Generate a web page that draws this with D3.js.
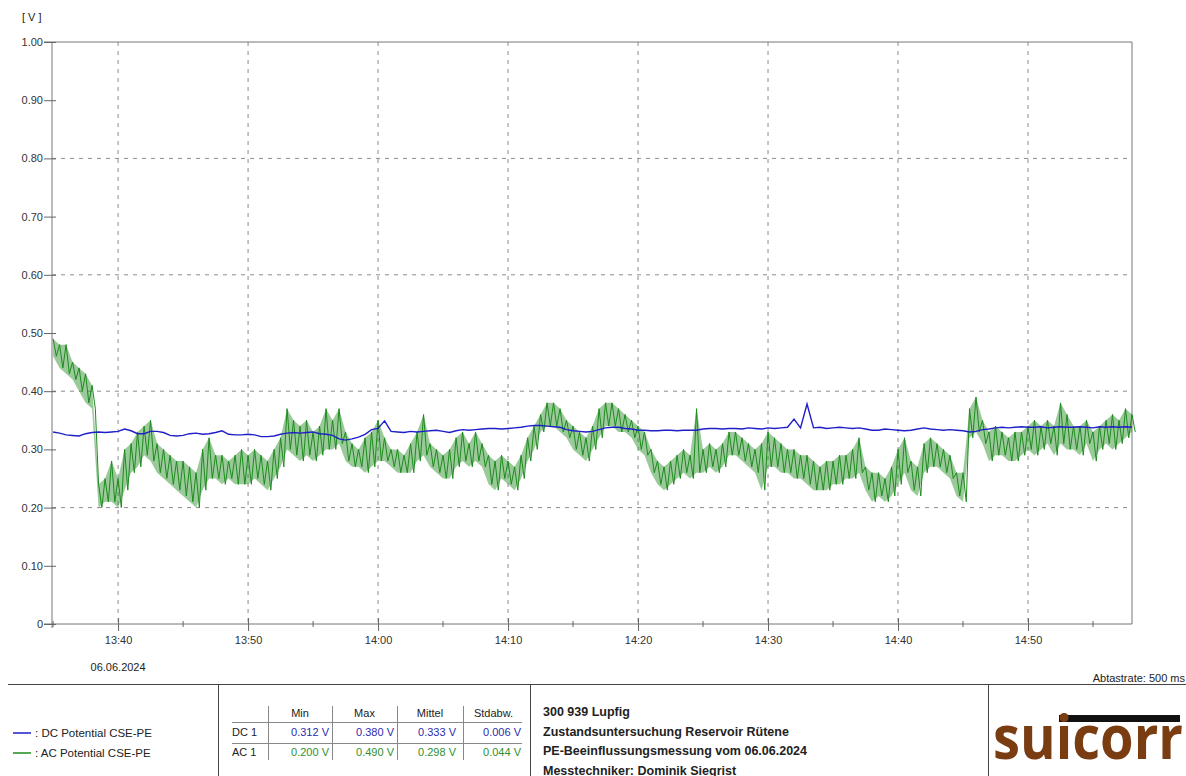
<!DOCTYPE html>
<html>
<head>
<meta charset="utf-8">
<title>PE-Beeinflussungsmessung</title>
<style>
body { margin: 0; background: #fff; }
svg text { font-family: "Liberation Sans", Arial, sans-serif; fill: #222; }
.grid line { stroke: #8c8c8c; stroke-width: 1; stroke-dasharray: 4,5; }
.frame line { stroke: #777; stroke-width: 1; }
.axis line { stroke: #666; }
.axis text { font-size: 11px; fill: #333; }
.panel line { stroke: #444; stroke-width: 1; }
.tbl line { stroke: #888; stroke-width: 1; }
.tbl text { font-size: 11px; }
.info { font-size: 12.5px; font-weight: bold; }
</style>
</head>
<body>
<svg width="1186" height="776"></svg>
<script src="https://d3js.org/d3.v7.min.js"></script>
<script>

// sampling grid: one bin every 30 s from 13:35:00
var startTime = "13:35:00";
var binSeconds = 30;

// AC 1 - lower / upper edge of the noisy band per 30 s bin [V]
var acLo = [
  .46,.44,.43,.42,.40,.38,.37,.20,.21,.21,
  .20,.23,.26,.27,.29,.28,.26,.25,.24,.23, .22,.21,.20,.23,.25,.25,.24,.25,.24,.24,
  .24,.25,.24,.23,.25,.27,.30,.29,.28,.29, .28,.29,.30,.30,.31,.28,.27,.27,.26,.27,
  .28,.28,.27,.26,.26,.26,.28,.29,.27,.26, .25,.25,.27,.28,.27,.28,.27,.24,.23,.25,
  .24,.23,.25,.28,.30,.33,.34,.34,.33,.32, .30,.29,.28,.30,.32,.34,.34,.33,.33,.32,
  .30,.29,.26,.24,.23,.24,.25,.26,.25,.26, .26,.27,.26,.27,.29,.29,.28,.27,.26,.23,
  .27,.27,.26,.26,.25,.25,.24,.23,.23,.23, .24,.24,.25,.25,.26,.23,.21,.22,.21,.22,
  .24,.26,.23,.22,.26,.27,.27,.26,.25,.22, .21,.32,.33,.31,.28,.29,.29,.28,.28,.29,
  .30,.29,.30,.31,.29,.31,.30,.30,.29,.31, .28,.30,.31,.30,.31,.32,.33
];
var acHi = [
  .49,.48,.48,.45,.44,.43,.41,.24,.25,.28,
  .25,.30,.31,.33,.34,.35,.31,.30,.29,.28, .28,.27,.26,.30,.32,.29,.29,.28,.29,.30,
  .29,.30,.29,.28,.30,.32,.37,.35,.34,.35, .33,.34,.37,.35,.37,.33,.31,.30,.32,.33,
  .35,.32,.30,.30,.29,.31,.33,.36,.31,.30, .29,.30,.32,.33,.31,.33,.31,.29,.28,.29,
  .28,.27,.29,.32,.34,.36,.38,.38,.37,.35, .34,.33,.32,.34,.37,.38,.38,.37,.36,.35,
  .34,.33,.30,.28,.27,.28,.29,.30,.29,.37, .30,.31,.30,.31,.33,.33,.32,.31,.30,.31,
  .33,.32,.31,.30,.30,.29,.29,.28,.27,.28, .28,.29,.29,.30,.32,.27,.26,.26,.25,.27,
  .30,.32,.28,.27,.31,.32,.31,.30,.29,.26, .26,.37,.39,.35,.33,.34,.33,.32,.33,.33,
  .34,.35,.34,.35,.34,.38,.36,.34,.34,.35, .33,.34,.35,.36,.35,.37,.36
];

// DC 1 per 30 s bin [V]
var dc = [
  .330,.328,.325,.324,.323,.327,.329,.330,.329,.330,
  .331,.335,.332,.327,.327,.331,.331,.329,.324,.323,
  .324,.327,.328,.326,.327,.329,.332,.326,.325,.325,
  .326,.325,.322,.322,.323,.326,.328,.329,.328,.329,
  .330,.327,.326,.324,.318,.316,.318,.321,.326,.334,
  .336,.349,.331,.330,.329,.331,.330,.331,.332,.333,
  .331,.329,.332,.334,.333,.334,.335,.336,.336,.335,
  .336,.337,.338,.340,.341,.341,.340,.339,.338,.334,
  .332,.331,.330,.331,.334,.337,.338,.338,.336,.335,
  .333,.333,.332,.332,.333,.333,.332,.333,.333,.333,
  .335,.336,.336,.335,.336,.336,.335,.337,.336,.335,
  .337,.336,.337,.338,.352,.337,.378,.337,.338,.336,
  .337,.338,.337,.336,.337,.335,.333,.333,.335,.334,
  .333,.332,.333,.335,.337,.335,.334,.333,.334,.333,
  .332,.330,.331,.334,.335,.337,.338,.337,.338,.339,
  .338,.338,.339,.337,.338,.339,.338,.338,.339,.338,
  .337,.339,.338,.339,.338,.339,.338
];

var yTicks = [0, 0.1, 0.2, 0.3, 0.4, 0.5, 0.6, 0.7, 0.8, 0.9, 1.0];
var yGrid = [0.2, 0.4, 0.6, 0.8];
var timeDomain = ["13:34:55", "14:58:00"];
var dateLabel = "06.06.2024";
var unitLabel = "[ V ]";
var rateLabel = "Abtastrate: 500 ms";

var legendNames = ["DC Potential CSE-PE", "AC Potential CSE-PE"];
var statCols = ["Min", "Max", "Mittel", "Stdabw."];
var statRows = ["DC 1", "AC 1"];
var dcStats = ["0.312 V", "0.380 V", "0.333 V", "0.006 V"];
var acStats = ["0.200 V", "0.490 V", "0.298 V", "0.044 V"];
var infoLines = [
  "300 939  Lupfig",
  "Zustandsuntersuchung Reservoir Rütene",
  "PE-Beeinflussungsmessung vom 06.06.2024",
  "Messtechniker: Dominik Siegrist"
];
var logoText = "suicorr";

var blue = "#1f1fc8", green = "#1e8a1e";

var svg = d3.select("svg");
var parseT = d3.timeParse("%H:%M:%S");
var t0 = parseT(startTime);

// plot box (note: "top" is reserved on window, so use other names)
var pLeft = 52, pRight = 1132, pTop = 42, pBottom = 624;

var x = d3.scaleTime()
    .domain(timeDomain.map(parseT))
    .range([pLeft, pRight]);
var y = d3.scaleLinear()
    .domain([0, 1])
    .range([pBottom, pTop]);

function binTime(i, extra) {
  return new Date(t0.getTime() + (i * binSeconds + (extra || 0)) * 1000);
}

// grid
var grid = svg.append("g").attr("class", "grid");
grid.selectAll("line.v")
  .data(x.ticks(d3.timeMinute.every(10)))
  .enter().append("line")
    .attr("x1", function(d) { return x(d); })
    .attr("x2", function(d) { return x(d); })
    .attr("y1", pTop)
    .attr("y2", pBottom);
grid.selectAll("line.h")
  .data(yGrid)
  .enter().append("line")
    .attr("x1", pLeft)
    .attr("x2", pRight)
    .attr("y1", function(d) { return y(d); })
    .attr("y2", function(d) { return y(d); });

// frame
var frame = svg.append("g").attr("class", "frame");
frame.append("line").attr("x1", 44).attr("x2", pRight).attr("y1", pTop).attr("y2", pTop);
frame.append("line").attr("x1", pRight).attr("x2", pRight).attr("y1", pTop).attr("y2", pBottom);
frame.append("line").attr("x1", pLeft).attr("x2", pLeft).attr("y1", pTop).attr("y2", pBottom + 4);
frame.append("line").attr("x1", 44).attr("x2", pRight).attr("y1", pBottom).attr("y2", pBottom);

// y axis
var yAxis = svg.append("g")
    .attr("class", "axis")
    .attr("transform", "translate(" + pLeft + ",0)")
    .call(d3.axisLeft(y)
      .tickValues(yTicks)
      .tickSize(8)
      .tickPadding(1)
      .tickFormat(function(d) { return d === 0 ? "0" : d3.format(".2f")(d); }));
yAxis.select(".domain").remove();
yAxis.selectAll(".tick line").attr("x1", 4);

// x axis (major every 10 min, minor every 5 min)
var xAxis = svg.append("g")
    .attr("class", "axis")
    .attr("transform", "translate(0," + pBottom + ")")
    .call(d3.axisBottom(x)
      .ticks(d3.timeMinute.every(10))
      .tickSize(7)
      .tickPadding(5)
      .tickFormat(d3.timeFormat("%H:%M")));
xAxis.select(".domain").remove();
xAxis.selectAll(".tick line").attr("y1", -6);
xAxis.selectAll("line.minor")
  .data(x.ticks(d3.timeMinute.every(5)).filter(function(d) { return d.getMinutes() % 10 !== 0; }))
  .enter().append("line")
    .attr("class", "minor")
    .attr("x1", function(d) { return x(d); })
    .attr("x2", function(d) { return x(d); })
    .attr("y1", -3)
    .attr("y2", 3)
    .attr("stroke", "#666");

svg.append("text")
    .attr("x", 22).attr("y", 21)
    .style("font-size", "11px")
    .text(unitLabel);
svg.append("text")
    .attr("x", x(parseT("13:40:00"))).attr("y", 671)
    .attr("text-anchor", "middle")
    .style("font-size", "11px")
    .text(dateLabel);

// AC series: band between the edges, plus a zig-zag trace over it
var acPts = [];
acLo.forEach(function(v, i) {
  acPts.push({ t: binTime(i), v: acHi[i] });
  acPts.push({ t: binTime(i, binSeconds / 2), v: v });
});

svg.append("path")
    .datum(acLo.map(function(v, i) { return { t: binTime(i), lo: v, hi: acHi[i] }; }))
    .attr("fill", green)
    .attr("fill-opacity", 0.45)
    .attr("d", d3.area()
      .x(function(d) { return x(d.t); })
      .y0(function(d) { return y(d.lo); })
      .y1(function(d) { return y(d.hi); }));

svg.append("path")
    .datum(acPts)
    .attr("fill", "none")
    .attr("stroke", green)
    .attr("stroke-width", 1)
    .attr("d", d3.line()
      .x(function(d) { return x(d.t); })
      .y(function(d) { return y(d.v); }));

// DC series
svg.append("path")
    .datum(dc)
    .attr("fill", "none")
    .attr("stroke", blue)
    .attr("stroke-width", 1.4)
    .attr("d", d3.line()
      .x(function(d, i) { return x(binTime(i)); })
      .y(function(d) { return y(d); }));

// ---- bottom info panel ----
var panel = svg.append("g").attr("class", "panel");
panel.append("line").attr("x1", 8).attr("x2", 1186).attr("y1", 684.5).attr("y2", 684.5);
[218.5, 530.5, 988.5].forEach(function(px) {
  panel.append("line").attr("x1", px).attr("x2", px).attr("y1", 684.5).attr("y2", 776);
});

svg.append("text")
    .attr("x", 1185).attr("y", 682)
    .attr("text-anchor", "end")
    .style("font-size", "11px")
    .text(rateLabel);

// legend
var legend = svg.append("g");
[blue, green].forEach(function(c, i) {
  legend.append("line")
      .attr("x1", 13).attr("x2", 31)
      .attr("y1", 733 + i * 20).attr("y2", 733 + i * 20)
      .attr("stroke", c).attr("stroke-width", 1.5);
  legend.append("text")
      .attr("x", 35).attr("y", 737 + i * 20)
      .style("font-size", "11.5px")
      .text(": " + legendNames[i]);
});

// statistics table
var tbl = svg.append("g").attr("class", "tbl");
var colX = [268, 332, 397, 463];
colX.forEach(function(cx) {
  tbl.append("line").attr("x1", cx + .5).attr("x2", cx + .5).attr("y1", 706).attr("y2", 760);
});
tbl.append("line").attr("x1", 232).attr("x2", 522).attr("y1", 722.5).attr("y2", 722.5);
tbl.append("line").attr("x1", 232).attr("x2", 522).attr("y1", 743.5).attr("y2", 743.5);
var colEnd = [329, 394, 456, 521];
statCols.forEach(function(c, i) {
  var mid = (colX[i] + (colX[i + 1] || 524)) / 2;
  tbl.append("text").attr("x", mid).attr("y", 717).attr("text-anchor", "middle").text(c);
});
[dcStats, acStats].forEach(function(row, r) {
  tbl.append("text").attr("x", 232).attr("y", 736 + r * 20).text(statRows[r]);
  row.forEach(function(v, i) {
    tbl.append("text")
        .attr("x", colEnd[i]).attr("y", 736 + r * 20)
        .attr("text-anchor", "end")
        .style("fill", r === 0 ? "#2b2bb0" : "#2f8f2f")
        .text(v);
  });
});

// project info
infoLines.forEach(function(l, i) {
  svg.append("text")
      .attr("class", "info")
      .attr("x", 543).attr("y", 716 + i * 19.5)
      .text(l);
});

// logo
svg.append("rect")
    .attr("x", 1059).attr("y", 715).attr("width", 121).attr("height", 7)
    .attr("fill", "#111");
svg.append("text")
    .attr("x", 993).attr("y", 759)
    .attr("textLength", 190)
    .attr("lengthAdjust", "spacingAndGlyphs")
    .style("font-family", "'Open Sans', 'Noto Sans', sans-serif")
    .style("font-weight", "bold")
    .style("font-size", "60px")
    .style("fill", "#7a3d12")
    .text(logoText);

</script>
</body>
</html>
